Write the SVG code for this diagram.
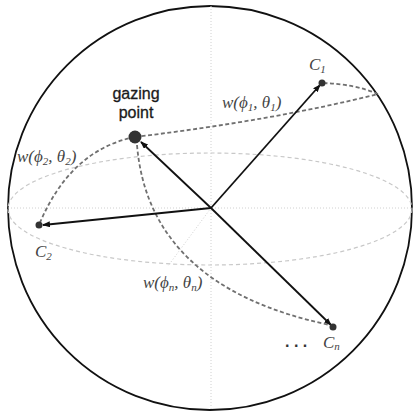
<svg xmlns="http://www.w3.org/2000/svg" width="413" height="412" viewBox="0 0 413 412">
<style>
.grid{stroke:#d0d0d0;stroke-width:1;stroke-dasharray:1 2;fill:none}
.eq{stroke:#c8c8c8;stroke-width:1.2;stroke-dasharray:4 3;fill:none}
.arr{stroke:#111;stroke-width:1.8;fill:none;marker-end:url(#ah)}
.dsh{stroke:#707070;stroke-width:1.8;stroke-dasharray:4 2.5;fill:none}
.dot{fill:#333}
.lab{font-family:"Liberation Sans",Arial,sans-serif;font-size:16px;fill:#1a1a1a;stroke:#1a1a1a;stroke-width:0.3}
.math{font-family:"Liberation Serif","DejaVu Serif",serif;font-style:italic;font-size:17px;fill:#444}
.sub{font-size:11px}
</style>
<defs>
<marker id="ah" markerWidth="8" markerHeight="6" refX="7" refY="3" orient="auto" markerUnits="userSpaceOnUse">
<path d="M0,0 L8,3 L0,6 Z" fill="#111"/>
</marker>
</defs>
<rect width="413" height="412" fill="#fff"/>
<g id="sphere">
<circle cx="210" cy="208" r="202" fill="none" stroke="#111" stroke-width="1.8"/>
<line class="grid" x1="8" y1="208" x2="412" y2="208"/>
<line class="grid" x1="211" y1="6" x2="211" y2="410"/>
<line class="grid" x1="211" y1="208" x2="168" y2="266"/>
<ellipse class="eq" cx="210" cy="209" rx="202" ry="56"/>
</g>
<g id="connectors">
<path class="dsh" d="M135,137 Q275,120 378,94 Q355,84 322,83"/>
<path class="dsh" d="M135,137 Q70,150 39,225" stroke-width="2.2"/>
<path class="dsh" d="M137,145 C145,240 210,300 330,325" stroke-width="1.3"/>
<line class="arr" x1="211" y1="208" x2="141" y2="142"/>
<line class="arr" x1="211" y1="208" x2="320" y2="85"/>
<line class="arr" x1="211" y1="208" x2="43" y2="225"/>
<line class="arr" x1="211" y1="208" x2="331" y2="325"/>
</g>
<g id="gazing">
<circle class="dot" cx="135" cy="137" r="6.5"/>
<text class="lab" x="136" y="99" text-anchor="middle">gazing</text>
<text class="lab" x="136" y="118" text-anchor="middle">point</text>
</g>
<g id="c1">
<circle class="dot" cx="322" cy="83" r="3.5"/>
<text class="math" x="309" y="70">C<tspan class="sub" dy="3">1</tspan></text>
</g>
<g id="c2">
<circle class="dot" cx="39" cy="225" r="3.5"/>
<text class="math" x="35" y="257">C<tspan class="sub" dy="3">2</tspan></text>
</g>
<g id="cn">
<circle class="dot" cx="333" cy="327" r="3.5"/>
<text class="math" x="323" y="348">C<tspan class="sub" dy="2">n</tspan></text>
<text x="285" y="347" font-family="Liberation Sans,sans-serif" font-size="16" font-weight="bold" fill="#333">. . .</text>
</g>
<g id="labels">
<text class="math" x="222" y="108">w(ϕ<tspan class="sub" dy="3">1</tspan><tspan dy="-3">, θ</tspan><tspan class="sub" dy="3">1</tspan><tspan dy="-3">)</tspan></text>
<text class="math" x="17" y="162">w(ϕ<tspan class="sub" dy="3">2</tspan><tspan dy="-3">, θ</tspan><tspan class="sub" dy="3">2</tspan><tspan dy="-3">)</tspan></text>
<text class="math" x="143" y="288">w(ϕ<tspan class="sub" dy="3">n</tspan><tspan dy="-3">, θ</tspan><tspan class="sub" dy="3">n</tspan><tspan dy="-3">)</tspan></text>
</g>
</svg>
